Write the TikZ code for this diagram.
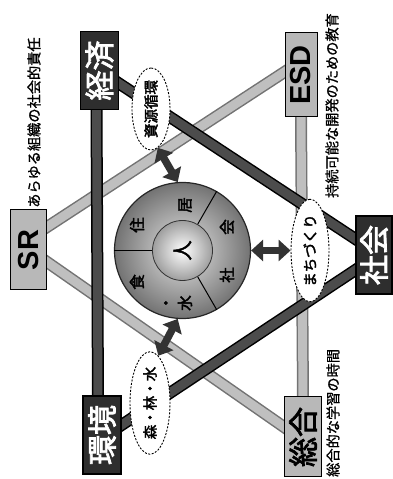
\documentclass[tikz,border=0pt]{standalone}
\usepackage{fontspec}
\newfontfamily\jp{Noto Sans CJK JP}
\newfontfamily\jpb[FakeBold=2.5]{Noto Sans CJK JP}
\newfontfamily\jpm[FakeBold=1]{Noto Sans CJK JP}
\newfontfamily\lsans{Liberation Sans}
\usetikzlibrary{arrows.meta,shapes.geometric,calc}
\pgfdeclarelayer{back}
\pgfsetlayers{back,main}
\tikzset{
 darkbox/.style={draw=black, line width=1.2pt, fill=black!82, text=white, minimum width=78pt, minimum height=38pt, inner sep=0pt, font=\jpb\fontsize{30}{30}\selectfont},
 lightbox/.style={draw=black, line width=1pt, fill=black!28, text=black, minimum width=80pt, minimum height=36pt, inner sep=0pt},
 darkbar/.style={draw=black!70, line width=9pt, preaction={draw=black, line width=12pt}, shorten <=-6pt, shorten >=-6pt},
 graybar/.style={draw=black!25, line width=9pt, preaction={draw=black!55, line width=12pt}, shorten <=-6pt, shorten >=-6pt},
 bubble/.style={ellipse, draw=black, dash pattern=on 2pt off 1.5pt, line width=0.9pt, fill=white, inner sep=0pt, font=\jpb\fontsize{14.5}{14.5}\selectfont},
 darrow/.style={draw=black!80, line width=7.5pt, {Triangle[width=21pt,length=12pt]}-{Triangle[width=21pt,length=12pt]}},
 capt/.style={font=\jpm\fontsize{14.2}{14.2}\selectfont, inner sep=0pt, anchor=west},
 ringlbl/.style={font=\jpb\fontsize{15.5}{15.5}\selectfont, inner sep=0pt},
}
\begin{document}
\begin{tikzpicture}[x={(0,1pt)}, y={(1pt,0)}, every node/.append style={rotate=90}]
\useasboundingbox (0,0) rectangle (479,392);
% boxes
\node[darkbox] (keizai) at (408.5,99.5) {経済};
\node[darkbox] (kankyo) at (44,102) {環境};
\node[darkbox, minimum height=36pt] (shakai) at (224,374) {社会};
\node[lightbox, font=\lsans\bfseries\fontsize{29}{29}\selectfont] (sr) at (229,28.5) {SR};
\node[lightbox, minimum width=84pt, minimum height=32pt, font=\lsans\bfseries\fontsize{29}{29}\selectfont] (esd) at (404,301) {ESD};
\node[lightbox, minimum height=37pt, font=\jpb\fontsize{30}{30}\selectfont] (sogo) at (42,303) {総合};
% captions
\node[capt] (c1) at (271,34) {あらゆる組織の社会的責任};
\node[capt] (c2) at (281,332) {持続可能な開発のための教育};
\node[capt] (c3) at (2,333) {総合的な学習の時間};
% bars
\begin{pgfonlayer}{back}
\draw[graybar] (sogo.east) -- (esd.west);
\draw[graybar] ($(sr.south)+(-12,0)$) -- ($(sogo.north)+(10,0)$);
\draw[graybar] ($(sr.south)+(23,0)$) -- ($(esd.north)+(3,0)$);
\draw[darkbar] ($(kankyo.east)+(0,-4)$) -- ($(keizai.west)+(0,-3)$);
\draw[darkbar] ($(shakai.north)+(-15,0)$) -- ($(kankyo.south)+(10,0)$);
\draw[darkbar] ($(shakai.north)+(16,0)$) -- ($(keizai.south)+(-13,0)$);
\end{pgfonlayer}
% bubbles
\node[bubble, minimum width=82pt, minimum height=38pt] (ov1) at (370,151) {資源循環};
\node[bubble, minimum width=88pt, minimum height=40pt] (ov2) at (76,150) {森・林・水};
\node[bubble, minimum width=83pt, minimum height=38pt] (ov3) at (228.5,310) {まちづくり};
% ring
\node[circle, minimum size=136pt, inner sep=0pt, inner color=black!10, outer color=black!55, draw=black!85, line width=1.2pt] (ring) at (228.5,182.5) {};
\node[circle, minimum size=60pt, inner sep=0pt, inner color=white, outer color=black!38, draw=black!80, line width=0.8pt, font=\jpb\fontsize{20}{20}\selectfont] (hito) at (ring.center) {人};
\draw[black, line width=1pt] (hito.90) -- (ring.90);
\draw[black, line width=1pt] (hito.-30) -- (ring.-30);
\draw[black, line width=1pt] (hito.210) -- (ring.210);
\node[ringlbl] (l1) at (254,137) {住};
\node[ringlbl] (l2) at (274,185) {居};
\node[ringlbl] (l3) at (204,227) {社};
\node[ringlbl] (l4) at (252,227) {会};
\node[ringlbl] (l5) at (197,137) {食};
\node[ringlbl] (l6) at (176,168) {・};
\node[ringlbl] (l7) at (176,185) {水};
% arrows
\draw[darrow] (ov1.190) -- (ring.4);
\draw[darrow] (ov2.-10) -- (ring.176);
\draw[darrow] (ring.-90) -- (ov3.90);
\end{tikzpicture}
\end{document}
